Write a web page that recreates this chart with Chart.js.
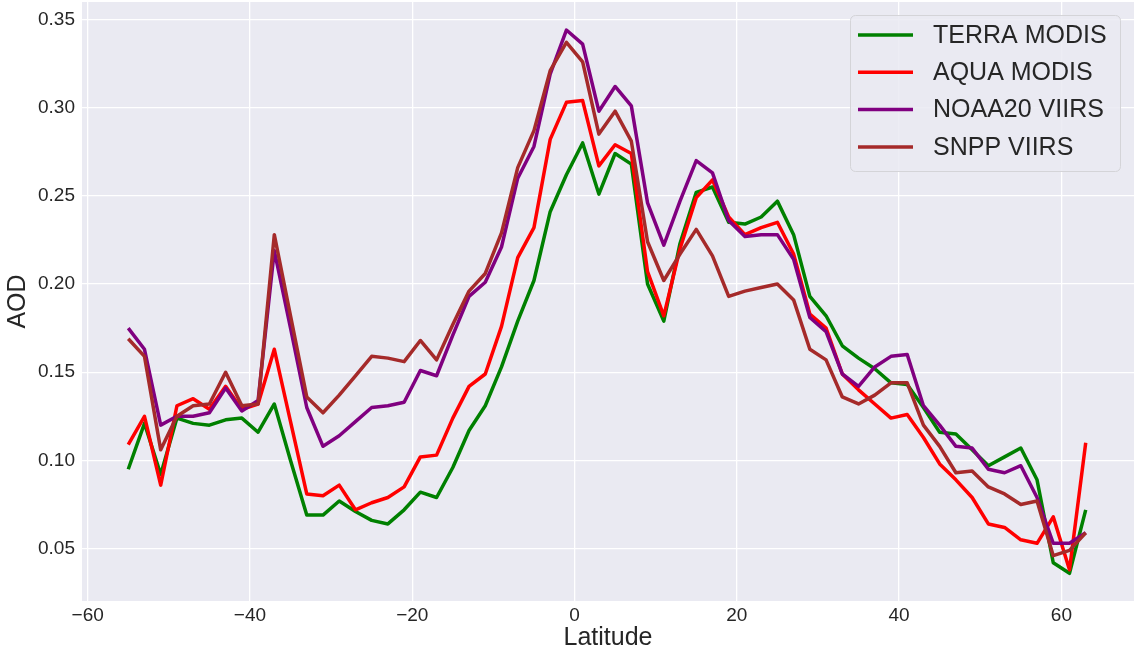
<!DOCTYPE html>
<html>
<head>
<meta charset="utf-8">
<title>AOD by latitude</title>
<script src="https://cdn.jsdelivr.net/npm/chart.js@4.4.0/dist/chart.umd.min.js"></script>
<style>
  html, body { margin: 0; padding: 0; background: #fff; }
  #wrap { width: 1134px; height: 653px; position: relative; }
</style>
</head>
<body>
<div id="wrap"><canvas id="aodChart"></canvas></div>
<script>
// Latitude bins (x)
const lats = [-55, -53, -51, -49, -47, -45, -43, -41, -39, -37, -35, -33, -31, -29, -27, -25, -23, -21, -19, -17,
              -15, -13, -11, -9, -7, -5, -3, -1, 1, 3, 5, 7, 9, 11, 13, 15, 17, 19, 21, 23,
              25, 27, 29, 31, 33, 35, 37, 39, 41, 43, 45, 47, 49, 51, 53, 55, 57, 59, 61, 63];

// AOD per sensor
const terraModis = [0.095, 0.121, 0.092, 0.124, 0.121, 0.120, 0.123, 0.124, 0.116, 0.132, 0.100, 0.069, 0.069, 0.077, 0.071, 0.066, 0.064, 0.072, 0.082, 0.079,
                    0.096, 0.117, 0.131, 0.153, 0.179, 0.202, 0.241, 0.262, 0.280, 0.251, 0.274, 0.268, 0.200, 0.179, 0.223, 0.252, 0.255, 0.235, 0.234, 0.238,
                    0.247, 0.228, 0.193, 0.182, 0.165, 0.158, 0.152, 0.144, 0.143, 0.130, 0.116, 0.115, 0.106, 0.097, 0.102, 0.107, 0.089, 0.042, 0.036, 0.072];
const aquaModis  = [0.109, 0.125, 0.086, 0.131, 0.135, 0.129, 0.142, 0.129, 0.132, 0.163, 0.122, 0.081, 0.080, 0.086, 0.072, 0.076, 0.079, 0.085, 0.102, 0.103,
                    0.124, 0.142, 0.149, 0.176, 0.215, 0.232, 0.282, 0.303, 0.304, 0.267, 0.279, 0.274, 0.207, 0.182, 0.220, 0.249, 0.259, 0.238, 0.228, 0.232,
                    0.235, 0.217, 0.183, 0.175, 0.149, 0.140, 0.132, 0.124, 0.126, 0.113, 0.098, 0.089, 0.079, 0.064, 0.062, 0.055, 0.053, 0.068, 0.038, 0.110];
const noaa20Viirs = [0.175, 0.163, 0.120, 0.125, 0.125, 0.127, 0.141, 0.128, 0.134, 0.219, 0.175, 0.130, 0.108, 0.114, 0.122, 0.130, 0.131, 0.133, 0.151, 0.148,
                     0.171, 0.193, 0.201, 0.221, 0.260, 0.278, 0.319, 0.344, 0.336, 0.298, 0.312, 0.301, 0.246, 0.222, 0.247, 0.270, 0.263, 0.236, 0.227, 0.228,
                     0.228, 0.214, 0.181, 0.173, 0.149, 0.142, 0.153, 0.159, 0.160, 0.131, 0.120, 0.108, 0.107, 0.095, 0.093, 0.097, 0.079, 0.053, 0.053, 0.059];
const snppViirs  = [0.169, 0.159, 0.106, 0.125, 0.131, 0.132, 0.150, 0.131, 0.132, 0.228, 0.182, 0.136, 0.127, 0.137, 0.148, 0.159, 0.158, 0.156, 0.168, 0.157,
                    0.177, 0.196, 0.206, 0.229, 0.266, 0.287, 0.321, 0.337, 0.326, 0.285, 0.298, 0.281, 0.224, 0.202, 0.217, 0.231, 0.216, 0.193, 0.196, 0.198,
                    0.200, 0.191, 0.163, 0.157, 0.136, 0.132, 0.137, 0.144, 0.144, 0.120, 0.108, 0.093, 0.094, 0.085, 0.081, 0.075, 0.077, 0.046, 0.049, 0.059];

const seriesNames = ['TERRA MODIS', 'AQUA MODIS', 'NOAA20 VIIRS', 'SNPP VIIRS'];
const seriesColors = ['#008000', '#ff0000', '#800080', '#a52a2a'];

// Tick labels
const xTicks = [-60, -40, -20, 0, 20, 40, 60];
const xTickLabels = ['\u221260', '\u221240', '\u221220', '0', '20', '40', '60'];
const yTicks = [0.05, 0.10, 0.15, 0.20, 0.25, 0.30, 0.35];
const yTickLabels = ['0.05', '0.10', '0.15', '0.20', '0.25', '0.30', '0.35'];

const FONT = "'Liberation Sans', Arial, 'DejaVu Sans', sans-serif";
const TEXT = '#262626';

function toPoints(vals) {
    return lats.map((lat, i) => ({ x: lat, y: vals[i] }));
}

// no extra room for edge labels, the axes box fills the canvas like matplotlib
function noEdgePad(s) {
    s.paddingTop = 0;
    s.paddingBottom = 0;
    s.paddingLeft = 0;
    s.paddingRight = 0;
}

// grey axes face like seaborn darkgrid
const faceBg = {
    id: 'faceBg',
    beforeDraw(chart) {
        const { ctx, chartArea: a } = chart;
        ctx.save();
        ctx.fillStyle = '#eaeaf2';
        ctx.fillRect(a.left, a.top, a.right - a.left, a.bottom - a.top);
        ctx.restore();
    }
};

// legend box in the upper right corner of the plot
const boxLegend = {
    id: 'boxLegend',
    afterDatasetsDraw(chart) {
        const { ctx, chartArea: a } = chart;
        const w = 270, h = 156;
        const x0 = a.right - 14 - w, y0 = a.top + 13;
        ctx.save();
        ctx.beginPath();
        ctx.roundRect(x0 + 0.5, y0 + 0.5, w, h, 5);
        ctx.fillStyle = 'rgba(234,234,242,0.85)';
        ctx.fill();
        ctx.strokeStyle = '#d4d4d8';
        ctx.lineWidth = 1;
        ctx.stroke();
        ctx.font = '25px ' + FONT;
        ctx.textBaseline = 'middle';
        ctx.fillStyle = TEXT;
        chart.data.datasets.forEach((ds, i) => {
            const y = y0 + 20 + i * 37.3;
            ctx.beginPath();
            ctx.moveTo(x0 + 8, y);
            ctx.lineTo(x0 + 63, y);
            ctx.strokeStyle = ds.borderColor;
            ctx.lineWidth = 3.5;
            ctx.lineCap = 'butt';
            ctx.stroke();
            ctx.fillText(ds.label, x0 + 83, y + 1);
        });
        ctx.restore();
    }
};

const datasets = [terraModis, aquaModis, noaa20Viirs, snppViirs].map((vals, i) => ({
    label: seriesNames[i],
    data: toPoints(vals),
    borderColor: seriesColors[i],
    backgroundColor: seriesColors[i],
    borderWidth: 3.5,
    borderJoinStyle: 'round',
    pointRadius: 0,
    tension: 0,
    fill: false,
    order: 4 - i   // later series on top, like matplotlib
}));

new Chart(document.getElementById('aodChart'), {
    type: 'line',
    data: { datasets },
    options: {
        responsive: true,
        maintainAspectRatio: false,
        animation: false,
        layout: { padding: { top: 2, right: 0, left: 0, bottom: 0 } },
        plugins: {
            legend: { display: false },
            tooltip: { enabled: false }
        },
        scales: {
            x: {
                type: 'linear',
                min: -60.7,
                max: 68.95,
                afterBuildTicks: s => { s.ticks = xTicks.map(v => ({ value: v })); },
                afterFit: s => { s.height = 52; noEdgePad(s); },
                grid: { color: '#ffffff', lineWidth: 1.3, drawTicks: false },
                border: { display: false },
                ticks: {
                    autoSkip: false, maxRotation: 0, padding: 3,
                    color: TEXT, font: { family: FONT, size: 19 },
                    callback: v => xTickLabels[xTicks.indexOf(v)]
                },
                title: {
                    display: true, text: 'Latitude', color: TEXT,
                    font: { family: FONT, size: 25 }, padding: { top: 0, bottom: 0 }
                }
            },
            y: {
                type: 'linear',
                min: 0.0203,
                max: 0.3599,
                afterBuildTicks: s => { s.ticks = yTicks.map(v => ({ value: v })); },
                afterFit: s => { s.width = 82; noEdgePad(s); },
                grid: { color: '#ffffff', lineWidth: 1.3, drawTicks: false },
                border: { display: false },
                ticks: {
                    autoSkip: false, padding: 7,
                    color: TEXT, font: { family: FONT, size: 19 },
                    callback: v => yTickLabels[yTicks.indexOf(v)]
                },
                title: {
                    display: true, text: 'AOD', color: TEXT,
                    font: { family: FONT, size: 25 }, padding: { top: 3, bottom: 0 }
                }
            }
        }
    },
    plugins: [faceBg, boxLegend]
});
</script>
</body>
</html>
